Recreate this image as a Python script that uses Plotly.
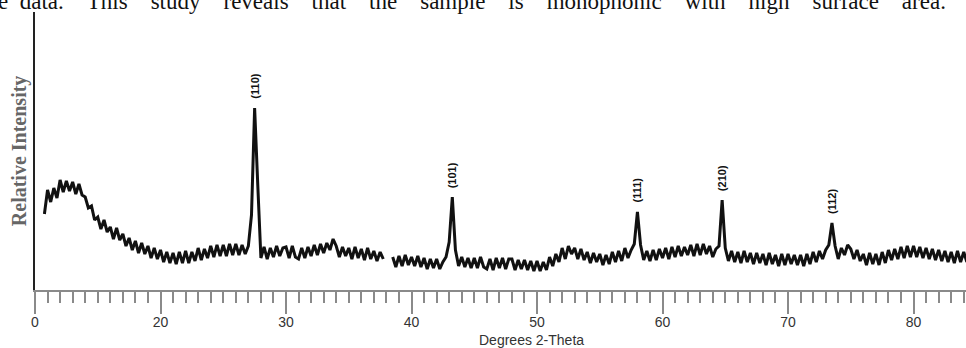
import plotly.graph_objects as go

# ---- data ----
two_theta_start = 10.75   # degrees 2-theta of the first sample
step = 0.25               # sampling step, degrees

intensity = [
    76,
    100, 88, 102, 92,
    110, 98, 109, 99,
    108, 96, 106, 95,
    93, 82, 84, 70,
    73, 61, 70, 58,
    63, 51, 62, 50,
    56, 44, 52, 40,
    49, 37, 47, 36,
    44, 32, 42, 31,
    40, 28, 38, 27,
    37, 26, 38, 27,
    39, 27, 38, 29,
    42, 30, 41, 32,
    44, 33, 45, 34,
    45, 34, 46, 35,
    46, 35, 45, 36,
    44, 75, 182, 105,
    32, 43, 31, 42,
    33, 44, 34, 42,
    43, 32, 44, 33,
    31, 42, 32, 43,
    34, 45, 35, 46,
    37, 47, 40, 51,
    44, 33, 43, 34,
    42, 31, 43, 32,
    41, 30, 42, 31,
    39, 29, 38, 31,
    None, None, 33, 23,
    34, 24, 35, 25,
    33, 24, 34, 23,
    32, 21, 31, 22,
    31, 21, 28, 33,
    48, 93, 40, 24,
    33, 23, 32, 22,
    32, 22, 33, 23,
    21, 31, 20, 32,
    22, 32, 21, 31,
    31, 20, 30, 21,
    30, 20, 29, 19,
    29, 19, 28, 20,
    33, 24, 36, 28,
    42, 31, 44, 36,
    42, 31, 41, 30,
    38, 27, 37, 28,
    36, 25, 35, 26,
    38, 28, 39, 29,
    42, 32, 40, 46,
    78, 45, 30, 39,
    29, 40, 30, 41,
    32, 42, 31, 43,
    33, 44, 34, 43,
    35, 45, 34, 46,
    35, 46, 36, 44,
    33, 41, 44, 90,
    42, 29, 39, 28,
    38, 27, 39, 28,
    37, 26, 37, 27,
    36, 25, 37, 26,
    35, 24, 36, 25,
    36, 26, 35, 25,
    35, 24, 36, 26,
    38, 28, 39, 31,
    40, 45, 67, 44,
    31, 42, 35, 45,
    41, 31, 40, 29,
    36, 25, 37, 26,
    36, 25, 38, 27,
    40, 30, 41, 31,
    43, 32, 44, 33,
    44, 33, 43, 32,
    42, 31, 41, 30,
    40, 29, 39, 28,
    38, 27, 39, 28,
    38, 28,
]

peak_positions = [27.5, 43.25, 58.0, 64.75, 73.5]
peak_labels = ["(110)", "(101)", "(111)", "(210)", "(112)"]

tick_values = [10, 20, 30, 40, 50, 60, 70, 80]
tick_labels = ["0", "20", "30", "40", "50", "60", "70", "80"]

x_title = "Degrees 2-Theta"
y_title = "Relative Intensity"
caption_words = ["data.", "This", "study", "reveals", "that", "the", "sample",
                 "is", "monophonic", "with", "high", "surface", "area."]

# ---- figure ----
two_theta = [round(two_theta_start + step * i, 2) for i in range(len(intensity))]

fig = go.Figure()
fig.add_trace(go.Scatter(
    x=two_theta, y=intensity, mode="lines",
    line=dict(color="#111111", width=3),
    connectgaps=False, hoverinfo="skip",
))

annotations = []
for pos, lab in zip(peak_positions, peak_labels):
    idx = two_theta.index(pos)
    annotations.append(dict(
        x=pos, y=intensity[idx] + 22, xref="x", yref="y",
        text=lab, showarrow=False, textangle=-90,
        xanchor="center", yanchor="middle",
        font=dict(family="Arial, Liberation Sans, sans-serif", size=11,
                  color="#111111", weight="bold"),
    ))

annotations.append(dict(
    x=-0.017, y=0.5, xref="paper", yref="paper", text=y_title,
    showarrow=False, textangle=-90, xanchor="center", yanchor="middle",
    font=dict(family="Liberation Serif, Times New Roman, serif", size=20,
              color="#666666", weight="bold"),
))
annotations.append(dict(
    x=0.533, y=-0.18, xref="paper", yref="paper", text=x_title,
    showarrow=False, xanchor="center", yanchor="middle",
    font=dict(family="Arial, Liberation Sans, sans-serif", size=14, color="#333333"),
))
annotations.append(dict(
    x=-0.0419, y=0.986, xref="paper", yref="paper",
    text="e" + "\u00a0" * 2 + ("\u00a0" * 4).join(caption_words),
    showarrow=False, xanchor="left", yanchor="bottom",
    font=dict(family="Liberation Serif, Times New Roman, serif", size=23, color="#111111"),
))

fig.update_layout(
    width=966, height=348,
    margin=dict(l=35, r=0, t=12, b=58, pad=0),
    paper_bgcolor="white", plot_bgcolor="white",
    showlegend=False,
    annotations=annotations,
    xaxis=dict(
        range=[10, 84.18], tickmode="array", tickvals=tick_values, ticktext=tick_labels,
        ticks="outside", ticklen=22, tickwidth=1.5, tickcolor="#8a8a8a",
        ticklabelstandoff=-4,
        showline=True, linecolor="#8a8a8a", linewidth=1.5,
        showgrid=False, zeroline=False,
        tickfont=dict(family="Arial, Liberation Sans, sans-serif", size=14, color="#333333"),
        minor=dict(ticks="outside", ticklen=11, tickwidth=1.5, tickcolor="#8a8a8a",
                   tickmode="linear", tick0=10, dtick=1, showgrid=False),
    ),
    yaxis=dict(
        range=[0, 278], showline=True, linecolor="#222222", linewidth=1.5,
        showticklabels=False, ticks="", showgrid=False, zeroline=False,
    ),
)

fig.write_html("out.html", config={"displayModeBar": False},
               post_script="document.body.style.margin='0px';")
